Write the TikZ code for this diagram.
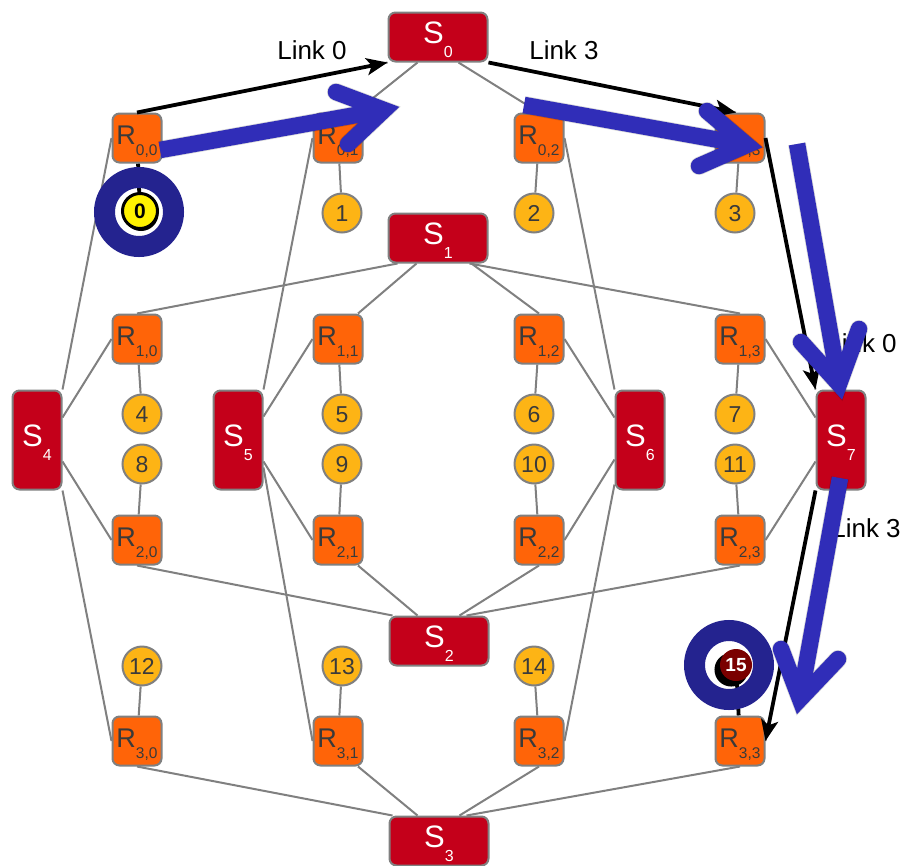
\documentclass[tikz,border=0pt]{standalone}
\usepackage{fontspec}
\setmainfont{Liberation Sans}
\usetikzlibrary{calc,arrows.meta,shadows}
\pgfdeclarelayer{bg}\pgfdeclarelayer{fg}\pgfsetlayers{bg,main,fg}
\definecolor{swred}{HTML}{C4001A}
\definecolor{rorange}{HTML}{FF6408}
\definecolor{cyellow}{HTML}{FDB415}
\definecolor{linegray}{HTML}{808080}
\definecolor{textgray}{HTML}{3A3A3A}
\definecolor{arrowblue}{HTML}{302DB8}
\definecolor{ringblue}{HTML}{24238F}
\definecolor{darkredc}{HTML}{7A0000}
\newcommand\Rl[1]{{\fontsize{27}{27}\selectfont R}\raisebox{-11pt}{\fontsize{15.5}{15.5}\selectfont #1}}
\newcommand\Sl[1]{{\fontsize{31}{31}\selectfont S}\raisebox{-14pt}{\fontsize{16}{16}\selectfont #1}}
\begin{document}
\begin{tikzpicture}[x=1pt,y=-1pt,
 swbase/.style={draw=linegray, line width=2pt, fill=swred, rounded corners=7pt, inner sep=0pt, text=white, text height=12pt, text depth=0pt},
 swh/.style={swbase, minimum width=99pt, minimum height=49pt},
 swv/.style={swbase, minimum width=49pt, minimum height=99pt},
 rt/.style={draw=linegray, line width=2pt, fill=rorange, rounded corners=7pt, minimum size=49pt, inner sep=0pt, text=textgray, text height=12pt, text depth=0pt},
 nd/.style={circle, draw=linegray, line width=2pt, fill=cyellow, minimum size=39pt, inner sep=0pt, text=textgray, font=\fontsize{23}{23}\selectfont, text height=16.5pt, text depth=0pt},
 gl/.style={draw=linegray, line width=2pt},
 bl/.style={draw=black, line width=3.8pt},
 barr/.style={bl, -{Stealth[length=21pt,width=17pt,inset=5pt]}},
 lab/.style={font=\fontsize{26}{26}\selectfont, text=black, inner sep=0pt},
 bshaft/.style={draw=arrowblue, line width=16.5pt, line cap=butt},
 bhead/.style={draw=arrowblue, line width=16.5pt, line cap=round, line join=miter, miter limit=10},
 bshadow/.style={draw=black, opacity=0.15, line width=18pt}
]
\useasboundingbox (0,0) rectangle (905,865);
% switches
\node[swh] (S0) at (438,37) {\Sl{0}};
\node[swh] (S1) at (438,238) {\Sl{1}};
\node[swh] (S2) at (439,641) {\Sl{2}};
\node[swh] (S3) at (439,841) {\Sl{3}};
\node[swv] (S4) at (37,440) {\Sl{4}};
\node[swv] (S5) at (238,440) {\Sl{5}};
\node[swv] (S6) at (640,440) {\Sl{6}};
\node[swv] (S7) at (841,440) {\Sl{7}};
% routers
\foreach \i/\y in {0/138,1/339,2/540,3/741}{
  \foreach \j/\x in {0/137,1/338,2/539,3/740}{
    \node[rt] (R\i\j) at (\x,\y) {\Rl{\i,\j}};
  }
}
% end nodes
\node[circle, fill=yellow, draw=black, line width=3pt, minimum size=35pt, inner sep=0pt,
  font=\fontsize{21}{21}\selectfont\bfseries, text height=15pt, text depth=0pt,
  drop shadow={shadow xshift=1pt, shadow yshift=-2.5pt, fill=black, opacity=1}] (c0) at (140,211) {0};
\node[nd] (c1) at (342,213) {1};
\node[nd] (c2) at (534,213) {2};
\node[nd] (c3) at (735,213) {3};
\node[nd] (c4) at (142,414) {4};
\node[nd] (c5) at (342,414) {5};
\node[nd] (c6) at (534,414) {6};
\node[nd] (c7) at (735,414) {7};
\node[nd] (c8) at (142,464) {8};
\node[nd] (c9) at (342,464) {9};
\node[nd] (c10) at (534,464) {10};
\node[nd] (c11) at (735,464) {11};
\node[nd] (c12) at (142,666) {12};
\node[nd] (c13) at (342,666) {13};
\node[nd] (c14) at (534,666) {14};
\node[circle, fill=darkredc, minimum size=32pt, inner sep=0pt, text=white,
  font=\fontsize{19}{19}\selectfont\bfseries, text height=13.6pt, text depth=0pt,
  drop shadow={shadow xshift=-4.5pt, shadow yshift=-4.5pt, fill=black, opacity=1, shadow scale=1.05}] (c15) at (736,665) {15};
% labels
\node[lab] (l1) at (312,50) {Link 0};
\node[lab] (l2) at (564,50) {Link 3};
\node[lab] (l3) at (862,343) {Link 0};
\node[lab] (l4) at (866,528) {Link 3};

\begin{pgfonlayer}{bg}
\fill[white] (0,0) rectangle (905,865);
% row switches
\draw[gl] (S0.south west) -- (R00.north);
\draw[gl] ($(S0.south west)+(30,0)$) -- ($(R01.north)+(17,0)$);
\draw[gl] ($(S0.south west)+(71,0)$) -- (R02.north);
\draw[gl] (S0.south east) -- ($(R03.north)+(-4,0)$);
\draw[gl] ($(S1.south west)+(10,0)$) -- (R10.north);
\draw[gl] ($(S1.south west)+(29,0)$) -- ($(R11.north)+(20,0)$);
\draw[gl] ($(S1.south west)+(84,0)$) -- (R12.north);
\draw[gl] ($(S1.south west)+(82,0)$) -- (R13.north);
\draw[gl] ($(S2.north west)+(4,0)$) -- (R20.south);
\draw[gl] ($(S2.north west)+(29,0)$) -- ($(R21.south)+(20,0)$);
\draw[gl] ($(S2.north west)+(71,0)$) -- (R22.south);
\draw[gl] ($(S2.north west)+(78,0)$) -- (R23.south);
\draw[gl] ($(S3.north west)+(4,0)$) -- (R30.south);
\draw[gl] ($(S3.north west)+(29,0)$) -- ($(R31.south)+(20,0)$);
\draw[gl] ($(S3.north west)+(71,0)$) -- (R32.south);
\draw[gl] ($(S3.north west)+(78,0)$) -- (R33.south);
% column switches
\draw[gl] (S4.north east) -- (R00.west);
\draw[gl] ($(S4.north east)+(0,28)$) -- (R10.west);
\draw[gl] ($(S4.north east)+(0,72)$) -- (R20.west);
\draw[gl] (S4.south east) -- (R30.west);
\draw[gl] (S5.north east) -- (R01.west);
\draw[gl] ($(S5.north east)+(0,27)$) -- (R11.west);
\draw[gl] ($(S5.north east)+(0,72)$) -- (R21.west);
\draw[gl] ($(S5.north east)+(0,78)$) -- (R31.west);
\draw[gl] (S6.north west) -- (R02.east);
\draw[gl] ($(S6.north west)+(0,28)$) -- (R12.east);
\draw[gl] ($(S6.north west)+(0,70)$) -- (R22.east);
\draw[gl] ($(S6.north west)+(0,95)$) -- (R32.east);
\draw[gl] (S7.north west) -- (R03.east);
\draw[gl] ($(S7.north west)+(0,28)$) -- (R13.east);
\draw[gl] ($(S7.north west)+(0,72)$) -- (R23.east);
\draw[gl] (S7.south west) -- (R33.east);
% router to end node
\draw[gl] (R01) -- (c1);
\draw[gl] (R02) -- (c2);
\draw[gl] (R03) -- (c3);
\draw[gl] (R10) -- (c4);
\draw[gl] (R11) -- (c5);
\draw[gl] (R12) -- (c6);
\draw[gl] (R13) -- (c7);
\draw[gl] (c8) -- (R20);
\draw[gl] (c9) -- (R21);
\draw[gl] (c10) -- (R22);
\draw[gl] (c11) -- (R23);
\draw[gl] (c12) -- (R30);
\draw[gl] (c13) -- (R31);
\draw[gl] (c14) -- (R32);
\draw[bl] (R00) -- (c0);
\draw[bl] (c15) -- (R33);
\end{pgfonlayer}

% black route arrows
\draw[barr] (R00.north) -- (S0.south west);
\draw[barr] (S0.south east) -- ($(R03.north)+(-4,0)$);
\draw[barr] (R03.east) -- (S7.north west);
\draw[barr] (S7.south west) -- (R33.east);

\begin{pgfonlayer}{fg}
% rings
\draw[ringblue, line width=21pt] (139,212) circle (34.5pt);
\draw[ringblue, line width=21pt] (729,665) circle (34.5pt);
% blue arrows
\coordinate (a1s) at (160,150); \coordinate (a1v) at (384,110);
\coordinate (a1p) at (336,92);  \coordinate (a1q) at (348,144);
\coordinate (a2s) at (524,105); \coordinate (a2v) at (747,145);
\coordinate (a2p) at (707,111); \coordinate (a2q) at (699,166);
\coordinate (a3s) at (797,144); \coordinate (a3v) at (839,384);
\coordinate (a3p) at (801,342); \coordinate (a3q) at (859,329);
\coordinate (a4s) at (840,478); \coordinate (a4v) at (800,699);
\coordinate (a4p) at (781,649); \coordinate (a4q) at (838,659);
\begin{scope}[shift={(2,3)}]
\foreach \k in {1,2,3,4}{
  \draw[bshadow, line cap=butt] (a\k s) -- (a\k v);
  \draw[bshadow, line cap=round, line join=miter] (a\k p) -- (a\k v) -- (a\k q);
}
\end{scope}
\foreach \k in {1,2,3,4}{
  \draw[bshaft] (a\k s) -- (a\k v);
  \draw[bhead] (a\k p) -- (a\k v) -- (a\k q);
}
\end{pgfonlayer}
\end{tikzpicture}
\end{document}
